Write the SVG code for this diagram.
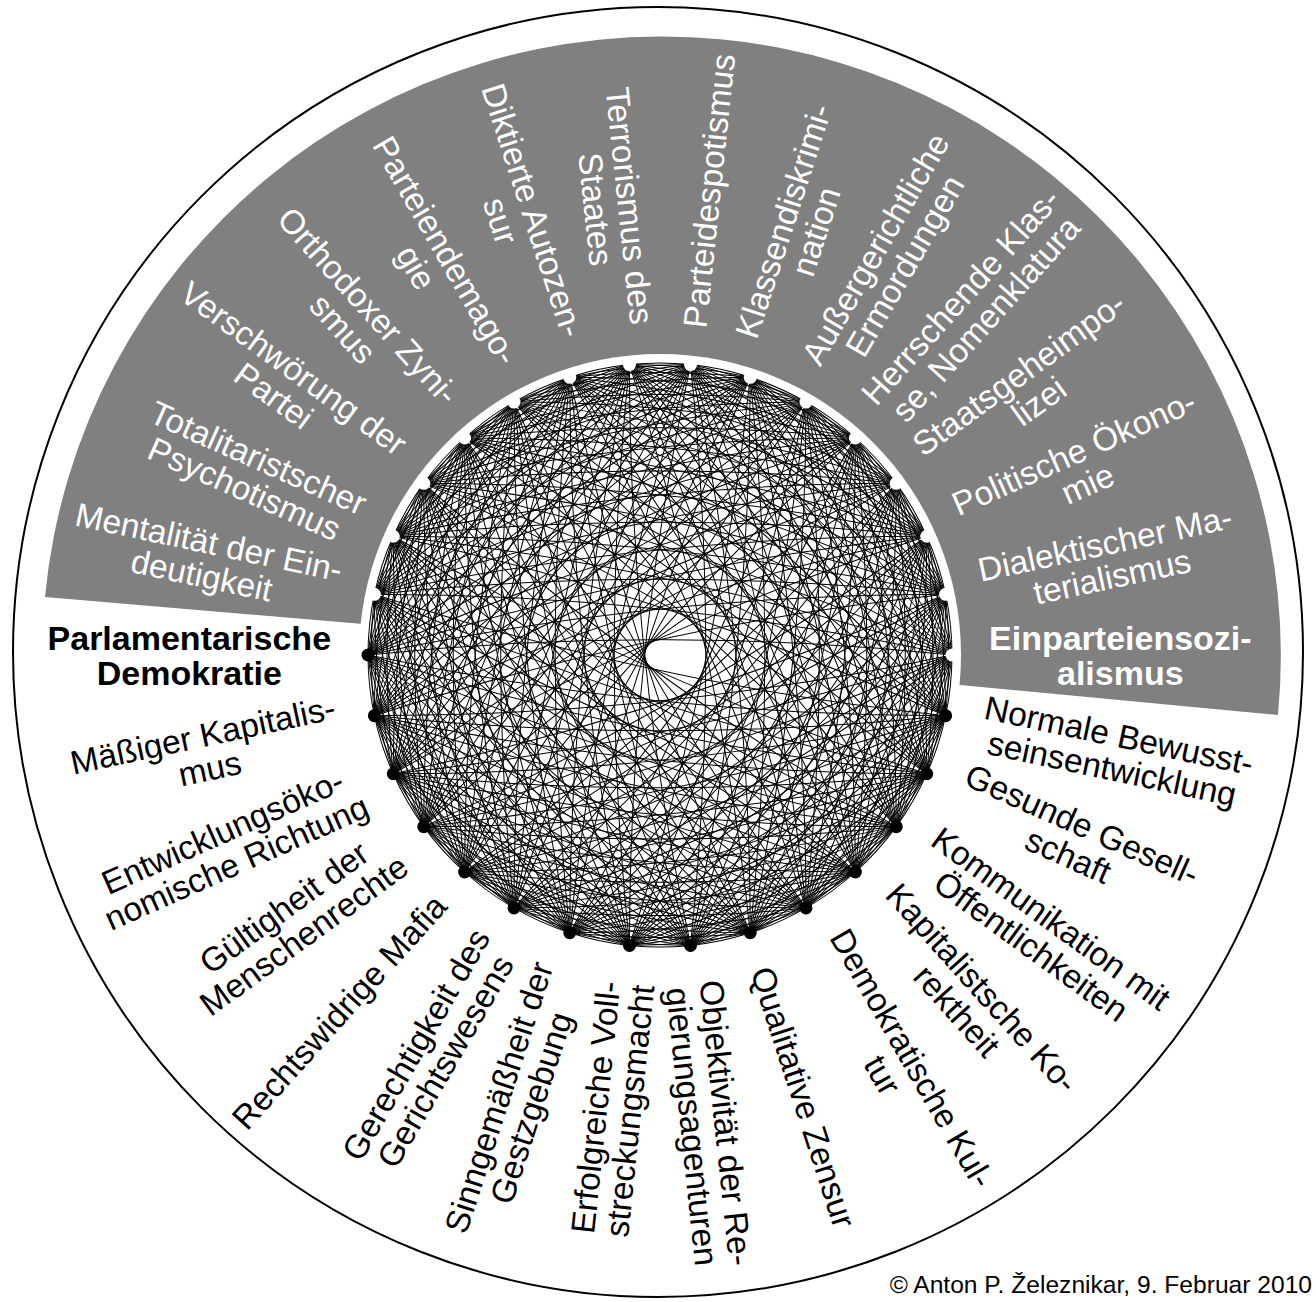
<svg xmlns="http://www.w3.org/2000/svg" width="1316" height="1302" viewBox="0 0 1316 1302">
<style>
text{font-family:"Liberation Sans",Arial,Helvetica,sans-serif;font-size:33.5px;text-anchor:middle}
.w{fill:#fff}
.k{fill:#000}
.bd{font-weight:bold;font-size:34px}
.dw{fill:#fff}
.db{fill:#000}
.ch{fill:none;stroke:#000;stroke-width:1}
</style>
<defs>
<g id="P1"><path d="M292 0A292 292 0 0 0 285.62 -60.71"/></g>
<g id="P2"><use href="#P1"/><path d="M292 0A580.8 580.8 0 0 0 266.76 -118.77"/></g>
<g id="P3"><use href="#P2"/><path d="M292 0A863.2 863.2 0 0 0 236.23 -171.63"/></g>
<g id="P4"><use href="#P3"/><path d="M292 0A1136.2 1136.2 0 0 0 195.39 -217"/></g>
<g id="P5"><use href="#P4"/><path d="M292 0A1396.8 1396.8 0 0 0 146 -252.88"/></g>
<g id="P6"><use href="#P5"/><path d="M292 0A1642 1642 0 0 0 90.23 -277.71"/></g>
<g id="P7"><use href="#P6"/><path d="M292 0A1869.2 1869.2 0 0 0 30.52 -290.4"/></g>
<g id="P8"><use href="#P7"/><path d="M292 0A2076 2076 0 0 0 -30.52 -290.4"/></g>
<g id="P9"><use href="#P8"/><path d="M292 0A2260 2260 0 0 0 -90.23 -277.71"/></g>
<g id="P10"><use href="#P9"/><path d="M292 0A2419.2 2419.2 0 0 0 -146 -252.88"/></g>
<g id="P11"><use href="#P10"/><path d="M292 0A2552 2552 0 0 0 -195.39 -217"/></g>
<g id="P12"><use href="#P11"/><path d="M292 0A2656.8 2656.8 0 0 0 -236.23 -171.63"/></g>
<g id="P13"><use href="#P12"/><path d="M292 0A2732.5 2732.5 0 0 0 -266.76 -118.77"/></g>
<g id="P14"><use href="#P13"/><path d="M292 0A2778.2 2778.2 0 0 0 -285.62 -60.71"/></g>
<path id="D" d="M292 0A2793.5 2793.5 0 0 0 -292 0"/>
<g id="A2"><use href="#P14"/><use href="#P14" transform="rotate(-12)"/></g>
<g id="A4"><use href="#A2"/><use href="#A2" transform="rotate(-24)"/></g>
<g id="A8"><use href="#A4"/><use href="#A4" transform="rotate(-48)"/></g>
<g id="A16"><use href="#A8"/><use href="#A8" transform="rotate(-96)"/></g>
<g id="D2"><use href="#D"/><use href="#D" transform="rotate(-12)"/></g>
<g id="D4"><use href="#D2"/><use href="#D2" transform="rotate(-24)"/></g>
<g id="D8"><use href="#D4"/><use href="#D4" transform="rotate(-48)"/></g>
</defs>
<rect width="1316" height="1302" fill="#fff"/>
<circle cx="658" cy="652" r="645" fill="#fff" stroke="#000" stroke-width="2"/>
<path d="M1278 715A619 619 0 1 0 45 597L363 624L660 655L960 685Z" fill="#808080"/>
<circle cx="660" cy="655" r="301" fill="#fff"/>
<g id="connectors" class="ch" transform="translate(660 655)">
<use href="#A16"/>
<use href="#A8" transform="rotate(-192)"/>
<use href="#A4" transform="rotate(-288)"/>
<use href="#A2" transform="rotate(-336)"/>
<use href="#D8"/>
<use href="#D4" transform="rotate(-96)"/>
<use href="#D2" transform="rotate(-144)"/>
<use href="#D" transform="rotate(-168)"/>
</g>
<g id="n0"><circle class="dw" cx="952" cy="655" r="6.5"/><text class="w bd" transform="translate(1120.3 655)"><tspan x="0" y="-5.3">Einparteiensozi-</tspan><tspan x="0" y="29.7">alismus</tspan></text></g>
<g id="n1"><circle class="dw" cx="945.62" cy="594.29" r="6.5"/><text class="w" transform="translate(1108.4 559.7) rotate(-12)"><tspan x="0" y="-5">Dialektischer Ma-</tspan><tspan x="0" y="29">terialismus</tspan></text></g>
<g id="n2"><circle class="dw" cx="926.76" cy="536.23" r="6.5"/><text class="w" transform="translate(1080.5 467.8) rotate(-24)"><tspan x="0" y="-5">Politische Ökono-</tspan><tspan x="0" y="29">mie</tspan></text></g>
<g id="n3"><circle class="dw" cx="896.23" cy="483.37" r="6.5"/><text class="w" transform="translate(1028.6 387.2) rotate(-36)"><tspan x="0" y="-5">Staatsgeheimpo-</tspan><tspan x="0" y="29">lizei</tspan></text></g>
<g id="n4"><circle class="dw" cx="855.39" cy="438" r="6.5"/><text class="w" transform="translate(972.9 307.4) rotate(-48)"><tspan x="0" y="-5">Herrschende Klas-</tspan><tspan x="0" y="29">se, Nomenklatura</tspan></text></g>
<g id="n5"><circle class="dw" cx="806" cy="402.12" r="6.5"/><text class="w" transform="translate(889.7 257.2) rotate(-60)"><tspan x="0" y="-5">Außergerichtliche</tspan><tspan x="0" y="29">Ermordungen</tspan></text></g>
<g id="n6"><circle class="dw" cx="750.23" cy="377.29" r="6.5"/><text class="w" transform="translate(799.3 226.2) rotate(-72)"><tspan x="0" y="-5">Klassendiskrimi-</tspan><tspan x="0" y="29">nation</tspan></text></g>
<g id="n7"><circle class="dw" cx="690.52" cy="364.6" r="6.5"/><text class="w" transform="translate(708.8 190.8) rotate(-84)"><tspan x="0" y="12">Parteidespotismus</tspan></text></g>
<g id="n8"><circle class="dw" cx="629.48" cy="364.6" r="6.5"/><text class="w" transform="translate(613 207.5) rotate(84)"><tspan x="0" y="-5">Terrorismus des</tspan><tspan x="0" y="29">Staates</tspan></text></g>
<g id="n9"><circle class="dw" cx="569.77" cy="377.29" r="6.5"/><text class="w" transform="translate(517.2 215.5) rotate(72)"><tspan x="0" y="-5">Diktierte Autozen-</tspan><tspan x="0" y="29">sur</tspan></text></g>
<g id="n10"><circle class="dw" cx="514" cy="402.12" r="6.5"/><text class="w" transform="translate(431.3 258.8) rotate(60)"><tspan x="0" y="-5">Parteiendemago-</tspan><tspan x="0" y="29">gie</tspan></text></g>
<g id="n11"><circle class="dw" cx="464.61" cy="438" r="6.5"/><text class="w" transform="translate(355.8 317.1) rotate(48)"><tspan x="0" y="-5">Orthodoxer Zyni-</tspan><tspan x="0" y="29">smus</tspan></text></g>
<g id="n12"><circle class="dw" cx="423.77" cy="483.37" r="6.5"/><text class="w" transform="translate(283.9 381.7) rotate(36)"><tspan x="0" y="-5">Verschwörung der</tspan><tspan x="0" y="29">Partei</tspan></text></g>
<g id="n13"><circle class="dw" cx="393.24" cy="536.23" r="6.5"/><text class="w" transform="translate(251.5 473.1) rotate(24)"><tspan x="0" y="-5">Totalitaristscher</tspan><tspan x="0" y="29">Psychotismus</tspan></text></g>
<g id="n14"><circle class="dw" cx="374.38" cy="594.29" r="6.5"/><text class="w" transform="translate(205.3 558.3) rotate(12)"><tspan x="0" y="-5">Mentalität der Ein-</tspan><tspan x="0" y="29">deutigkeit</tspan></text></g>
<g id="n15"><circle class="db" cx="368" cy="655" r="6.5"/><text class="k bd" transform="translate(189.3 655)"><tspan x="0" y="-5.3">Parlamentarische</tspan><tspan x="0" y="29.7">Demokratie</tspan></text></g>
<g id="n16"><circle class="db" cx="374.38" cy="715.71" r="6.5"/><text class="k" transform="translate(206.2 751.5) rotate(-12)"><tspan x="0" y="-5">Mäßiger Kapitalis-</tspan><tspan x="0" y="29">mus</tspan></text></g>
<g id="n17"><circle class="db" cx="393.24" cy="773.77" r="6.5"/><text class="k" transform="translate(229.3 846.7) rotate(-24)"><tspan x="0" y="-5">Entwicklungsöko-</tspan><tspan x="0" y="29">nomische Richtung</tspan></text></g>
<g id="n18"><circle class="db" cx="423.77" cy="826.63" r="6.5"/><text class="k" transform="translate(293.7 921.1) rotate(-36)"><tspan x="0" y="-5">Gültigheit der</tspan><tspan x="0" y="29">Menschenrechte</tspan></text></g>
<g id="n19"><circle class="db" cx="464.61" cy="872" r="6.5"/><text class="k" transform="translate(339 1011.6) rotate(-48)"><tspan x="0" y="12">Rechtswidrige Mafia</tspan></text></g>
<g id="n20"><circle class="db" cx="514" cy="907.88" r="6.5"/><text class="k" transform="translate(430.3 1052.8) rotate(-60)"><tspan x="0" y="-5">Gerechtigkeit des</tspan><tspan x="0" y="29">Gerichtswesens</tspan></text></g>
<g id="n21"><circle class="db" cx="569.77" cy="932.71" r="6.5"/><text class="k" transform="translate(514.6 1102.5) rotate(-72)"><tspan x="0" y="-5">Sinngemäßheit der</tspan><tspan x="0" y="29">Gestzgebung</tspan></text></g>
<g id="n22"><circle class="db" cx="629.48" cy="945.4" r="6.5"/><text class="k" transform="translate(612.3 1109) rotate(-84)"><tspan x="0" y="-5">Erfolgreiche Voll-</tspan><tspan x="0" y="29">streckungsmacht</tspan></text></g>
<g id="n23"><circle class="db" cx="690.52" cy="945.4" r="6.5"/><text class="k" transform="translate(709.4 1124.7) rotate(84)"><tspan x="0" y="-5">Objektivität der Re-</tspan><tspan x="0" y="29">gierungsagenturen</tspan></text></g>
<g id="n24"><circle class="db" cx="750.23" cy="932.71" r="6.5"/><text class="k" transform="translate(803.7 1097.1) rotate(72)"><tspan x="0" y="12">Qualitative Zensur</tspan></text></g>
<g id="n25"><circle class="db" cx="806" cy="907.88" r="6.5"/><text class="k" transform="translate(897.6 1066.5) rotate(60)"><tspan x="0" y="-5">Demokratische Kul-</tspan><tspan x="0" y="29">tur</tspan></text></g>
<g id="n26"><circle class="db" cx="855.39" cy="872" r="6.5"/><text class="k" transform="translate(969.8 999.1) rotate(48)"><tspan x="0" y="-5">Kapitalistsche Ko-</tspan><tspan x="0" y="29">rektheit</tspan></text></g>
<g id="n27"><circle class="db" cx="896.23" cy="826.63" r="6.5"/><text class="k" transform="translate(1041.4 932.1) rotate(36)"><tspan x="0" y="-5">Kommunikation mit</tspan><tspan x="0" y="29">Öffentlichkeiten</tspan></text></g>
<g id="n28"><circle class="db" cx="926.76" cy="773.77" r="6.5"/><text class="k" transform="translate(1075.4 839.9) rotate(24)"><tspan x="0" y="-5">Gesunde Gesell-</tspan><tspan x="0" y="29">schaft</tspan></text></g>
<g id="n29"><circle class="db" cx="945.62" cy="715.71" r="6.5"/><text class="k" transform="translate(1115.6 751.8) rotate(12)"><tspan x="0" y="-5">Normale Bewusst-</tspan><tspan x="0" y="29">seinsentwicklung</tspan></text></g>
<text class="k" x="1312" y="1293" style="text-anchor:end;font-size:24.6px">© Anton P. Železnikar, 9. Februar 2010</text>
</svg>
